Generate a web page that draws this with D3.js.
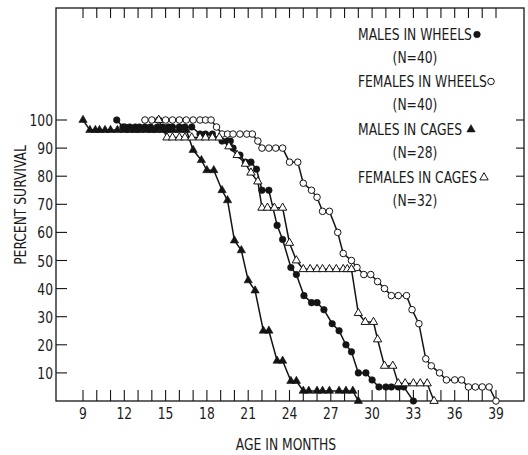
<!DOCTYPE html>
<html>
<head>
<meta charset="utf-8">
<script src="https://cdn.jsdelivr.net/npm/d3@7"></script>
<style>
  body { margin: 0; background: #fff; }
  text { font-family: "Liberation Sans Narrow", "DejaVu Sans Condensed", "Arial Narrow", sans-serif; fill: #1a1a1a; }
</style>
</head>
<body>
<svg id="chart" width="528" height="455"></svg>
<script>
// [age in months, percent survival]
let malesWheels = [
    [11.45, 100], [11.9, 97.5], [12.05, 97.5], [12.4, 97.5], [12.8, 97.5], [13.1, 97.5], [13.5, 97.5],
    [13.9, 97.5], [14.4, 97.5], [14.8, 97.5], [15.2, 97.5], [15.5, 97.5], [16.0, 97.5], [16.4, 97.5],
    [16.9, 97.5], [17.5, 95], [17.9, 95], [18.4, 95], [19.1, 92.5], [19.5, 92.5], [19.7, 92.5],
    [19.9, 90], [20.4, 87.5], [20.8, 85], [21.2, 85], [21.6, 82.5], [22.0, 75], [22.5, 75],
    [23.1, 62.5], [23.5, 57.5], [24.1, 47.5], [24.5, 45], [25.05, 37.5], [25.6, 35], [26.0, 35],
    [26.5, 32.5], [27.1, 27.5], [27.6, 25], [28.1, 20], [28.5, 17.5], [29.0, 10], [29.55, 10],
    [30.0, 7.5], [30.5, 5], [31.0, 5], [31.4, 5], [31.9, 5], [32.3, 5], [33.0, 0]
]

let femalesWheels = [
    [13.5, 100], [14.0, 100], [14.5, 100], [15.0, 100], [15.5, 100], [16.0, 100], [16.5, 100],
    [17.0, 100], [17.5, 100], [17.9, 100], [18.3, 100], [18.7, 97.5], [19.1, 95], [19.5, 95],
    [19.9, 95], [20.4, 95], [20.9, 95], [21.3, 95], [21.7, 92.5], [22.0, 90], [22.5, 90],
    [23.0, 90], [23.5, 90], [24.0, 85], [24.6, 85], [25.0, 77.5], [25.6, 75], [26.0, 72.5],
    [26.4, 67.5], [26.9, 67.5], [27.5, 60], [27.9, 52.5], [28.5, 50], [28.9, 47.5], [29.4, 45],
    [29.9, 45], [30.4, 42.5], [30.9, 40], [31.4, 37.5], [31.9, 37.5], [32.5, 37.5], [32.9, 32.5],
    [33.4, 27.5], [33.9, 15], [34.3, 12.5], [34.9, 10], [35.4, 7.5], [36.0, 7.5], [36.5, 7.5],
    [37.0, 5], [37.5, 5], [38.0, 5], [38.5, 5], [39.0, 0]
]

let malesCages = [
    [9.0, 100], [9.5, 96.4], [9.9, 96.4], [10.2, 96.4], [10.6, 96.4], [11.0, 96.4], [11.5, 96.4],
    [12.0, 96.4], [12.4, 96.4], [12.8, 96.4], [13.1, 96.4], [13.6, 96.4], [14.0, 96.4], [14.3, 96.4],
    [14.8, 96.4], [15.1, 96.4], [15.5, 96.4], [16.0, 96.4], [16.5, 96.4], [17.0, 89.3], [17.6, 85.7],
    [18.0, 82.1], [18.5, 82.1], [19.1, 75.0], [19.5, 71.4], [20.0, 57.1], [20.5, 53.6], [21.0, 42.9],
    [21.5, 39.3], [22.1, 25.0], [22.5, 25.0], [23.1, 14.3], [23.5, 14.3], [24.1, 7.1], [24.5, 7.1],
    [25.0, 3.6], [25.4, 3.6], [26.0, 3.6], [26.4, 3.6], [26.9, 3.6], [27.6, 3.6], [28.1, 3.6],
    [28.6, 3.6], [29.0, 0]
]

let femalesCages = [
    [14.5, 100], [15.1, 93.75], [15.5, 93.75], [16.0, 93.75], [16.4, 93.75], [16.9, 93.75],
    [17.5, 93.75], [17.9, 93.75], [18.4, 93.75], [18.9, 93.75], [19.6, 90.6], [20.2, 87.5],
    [20.8, 84.4], [21.2, 81.25], [21.7, 78.1], [22.0, 68.75], [22.4, 68.75], [22.9, 68.75],
    [23.5, 68.75], [24.0, 56.25], [24.5, 50], [25.0, 46.9], [25.5, 46.9], [26.0, 46.9], [26.4, 46.9],
    [26.9, 46.9], [27.4, 46.9], [27.9, 46.9], [28.2, 46.9], [28.5, 46.9], [29.0, 31.25], [29.5, 28.1],
    [30.1, 28.1], [30.4, 21.9], [30.9, 12.5], [31.5, 12.5], [31.9, 6.25], [32.4, 6.25], [33.0, 6.25],
    [33.5, 6.25], [34.0, 6.25], [34.5, 0]
]

let monthTicks = d3.range(9, 40)
let monthLabels = [9, 12, 15, 18, 21, 24, 27, 30, 33, 36, 39]
let pctTicks = [10, 20, 30, 40, 50, 60, 70, 80, 90, 100]

let legendNames = ["MALES IN WHEELS", "FEMALES IN WHEELS", "MALES IN CAGES", "FEMALES IN CAGES"]
let legendCounts = ["(N=40)", "(N=40)", "(N=28)", "(N=32)"]

const frame = { l: 56, r: 524, t: 8, b: 401 }
const ink = "#141414"
const sx = 0.83
const fs = 16.5

let svg = d3.select("#chart")

let x = d3.scaleLinear().domain([9, 39]).range([83, 496])
let y = d3.scaleLinear().domain([0, 100]).range([frame.b, 120])

// condensed text helper
function label(g, tx, ty, txt, anchor, rot) {
    return g.append("text")
        .attr("transform", `translate(${tx},${ty})` + (rot ? ` rotate(${rot})` : "") + ` scale(${sx},1)`)
        .attr("text-anchor", anchor || "start")
        .attr("font-size", fs)
        .text(txt)
}

// frame
svg.append("rect")
    .attr("x", frame.l).attr("y", frame.t)
    .attr("width", frame.r - frame.l).attr("height", frame.b - frame.t)
    .attr("fill", "none").attr("stroke", ink).attr("stroke-width", 1.3)

let ticks = svg.append("g").attr("stroke", ink).attr("stroke-width", 1.1)

// month ticks, top and bottom
ticks.selectAll(".tb").data(monthTicks).join("line")
    .attr("x1", d => x(d)).attr("x2", d => x(d))
    .attr("y1", frame.b).attr("y2", frame.b - 11)
ticks.selectAll(".tt").data(monthTicks).join("line")
    .attr("x1", d => x(d)).attr("x2", d => x(d))
    .attr("y1", frame.t).attr("y2", frame.t + 10)

// percent ticks, left and right
ticks.selectAll(".tl").data(pctTicks).join("line")
    .attr("x1", frame.l).attr("x2", frame.l + 11)
    .attr("y1", d => y(d)).attr("y2", d => y(d))
ticks.selectAll(".tr").data(pctTicks).join("line")
    .attr("x1", frame.r).attr("x2", frame.r - 8)
    .attr("y1", d => y(d)).attr("y2", d => y(d))

let labels = svg.append("g")
monthLabels.forEach(m => label(labels, x(m), 419, m, "middle"))
pctTicks.forEach(p => label(labels, 53, y(p) + 6, p, "end"))

label(labels, 26, 205, "PERCENT SURVIVAL", "middle", -90)
label(labels, 286, 450, "AGE IN MONTHS", "middle")

// series
let line = d3.line().x(d => x(d[0])).y(d => y(d[1]))

let series = [
    { data: malesWheels, shape: "circle", filled: true },
    { data: femalesWheels, shape: "circle", filled: false },
    { data: malesCages, shape: "triangle", filled: true },
    { data: femalesCages, shape: "triangle", filled: false }
]

let circleSym = d3.symbol().type(d3.symbolCircle).size(34)
let triSym = d3.symbol().type(d3.symbolTriangle).size(30)

function drawMarker(g, shape, filled, px, py) {
    g.append("path")
        .attr("d", shape == "circle" ? circleSym() : triSym())
        .attr("transform", `translate(${px},${py})`)
        .attr("fill", filled ? ink : "#fff")
        .attr("stroke", ink)
        .attr("stroke-width", filled ? 0.6 : 1)
}

series.forEach(s => {
    svg.append("path")
        .datum(s.data)
        .attr("d", line)
        .attr("fill", "none")
        .attr("stroke", ink)
        .attr("stroke-width", 1.5)
})

series.forEach(s => {
    let g = svg.append("g")
    s.data.forEach(d => drawMarker(g, s.shape, s.filled, x(d[0]), y(d[1])))
})

// legend
let legend = svg.append("g")
let legendY = [40, 87, 135, 183]
let legendMarkX = [477, 491, 471, 484]
legendNames.forEach((name, i) => {
    label(legend, 358, legendY[i], name, "start")
    label(legend, 415, legendY[i] + 23, legendCounts[i], "middle")
    drawMarker(legend, series[i].shape, series[i].filled, legendMarkX[i], legendY[i] - 5.5)
})
</script>
</body>
</html>
